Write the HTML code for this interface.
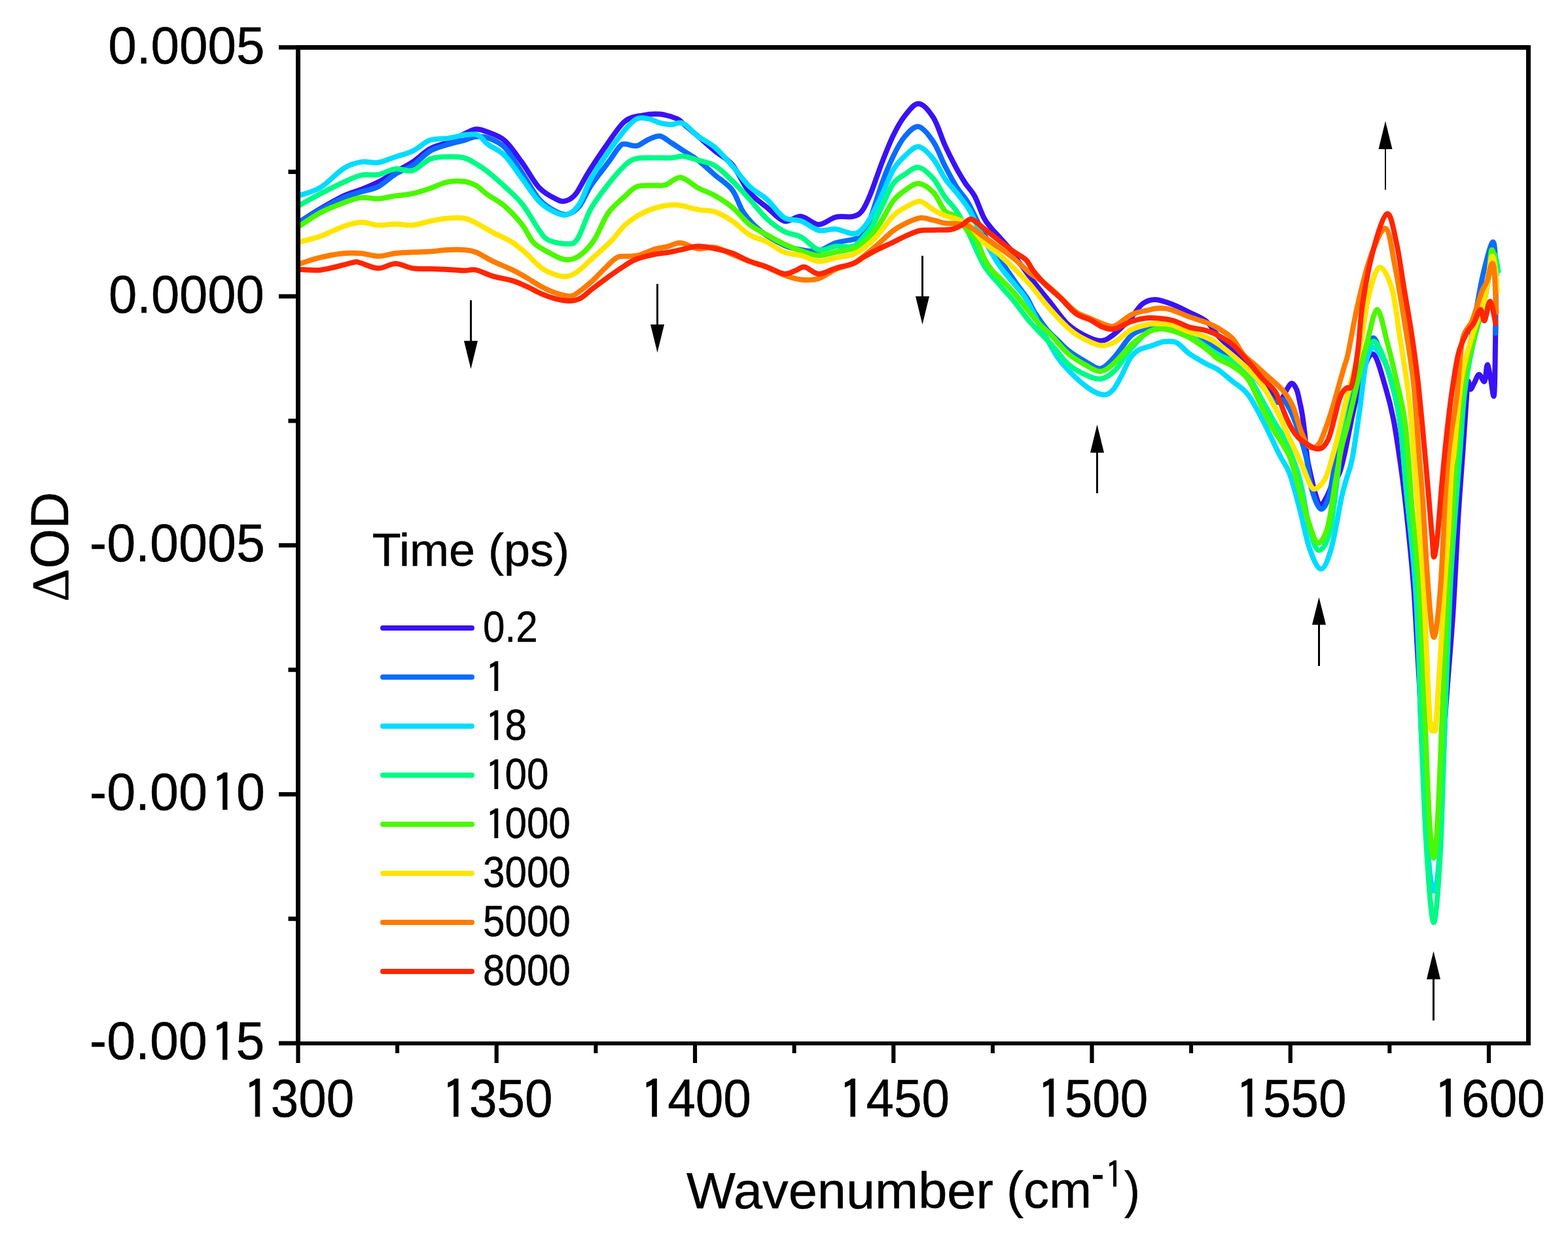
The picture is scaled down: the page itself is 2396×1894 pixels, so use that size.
<!DOCTYPE html>
<html><head><meta charset="utf-8"><title>Transient IR spectra</title>
<style>
html,body{margin:0;padding:0;background:#fff;width:2396px;height:1894px;overflow:hidden}
svg{display:block}
.tk text{font-family:'Liberation Sans', Arial, Helvetica, sans-serif;fill:#000;stroke:#000;stroke-width:0.5px;stroke-linejoin:round}
</style></head><body>
<svg width="2396" height="1894" viewBox="0 0 2396 1894">
<defs><clipPath id="pc"><rect x="459" y="76" width="1873" height="1516"/></clipPath></defs>
<g clip-path="url(#pc)" fill="none" stroke-width="8" stroke-linejoin="round" stroke-linecap="round">
<path d="M458.0,339.0C463.4,335.6 478.9,325.4 490.1,318.8C501.3,312.2 515.0,304.2 525.3,299.4C535.5,294.6 542.8,293.3 551.6,289.8C560.4,286.3 569.2,282.9 578.0,278.4C586.8,273.9 595.5,267.7 604.3,262.6C613.1,257.5 621.8,253.5 630.6,247.6C639.4,241.7 648.2,232.4 657.0,227.4C665.8,222.4 674.5,221.6 683.3,217.8C692.1,214.0 702.4,208.0 709.7,204.6C717.0,201.2 721.3,198.1 727.2,197.6C733.1,197.1 737.6,198.9 745.0,201.8C752.4,204.7 762.5,207.2 771.3,215.0C780.1,222.8 788.9,236.4 797.7,248.4C806.5,260.4 815.2,277.6 824.0,287.0C832.8,296.4 843.7,301.2 850.4,304.6C857.1,308.0 859.5,308.5 864.4,307.2C869.3,305.9 874.0,303.9 879.8,296.6C885.6,289.3 891.3,275.8 899.2,263.3C907.1,250.8 917.7,234.6 927.0,221.6C936.3,208.6 945.6,193.1 954.8,185.5C964.0,177.9 973.1,178.1 982.1,176.3C991.1,174.5 999.7,173.7 1008.5,174.6C1017.3,175.5 1028.7,179.0 1034.8,181.6C1040.9,184.2 1039.8,185.6 1045.0,190.0C1050.2,194.4 1058.3,201.2 1066.3,208.0C1074.2,214.8 1083.9,223.5 1092.7,230.8C1101.5,238.1 1110.2,241.4 1119.0,251.9C1127.8,262.4 1136.6,283.2 1145.4,294.0C1154.2,304.8 1162.9,309.6 1171.7,316.9C1180.5,324.2 1189.3,335.6 1198.1,337.9C1206.9,340.2 1215.6,330.0 1224.4,330.9C1233.2,331.8 1242.0,343.0 1250.8,343.2C1259.6,343.4 1268.3,333.9 1277.1,331.8C1285.9,329.8 1296.8,332.5 1303.5,330.9C1310.2,329.3 1313.1,327.8 1317.5,322.1C1321.9,316.5 1325.0,309.2 1330.0,297.0C1335.0,284.8 1341.8,263.9 1347.6,248.9C1353.4,233.8 1359.2,218.7 1365.1,206.7C1370.9,194.7 1376.2,184.9 1382.7,176.9C1389.2,168.9 1396.5,157.8 1403.8,158.4C1411.1,159.0 1419.9,169.7 1426.6,180.4C1433.3,191.1 1438.3,209.7 1444.2,222.6C1450.1,235.5 1456.6,248.1 1461.7,257.7C1466.8,267.3 1470.4,272.9 1475.0,280.0C1479.6,287.1 1484.7,291.2 1489.4,300.0C1494.1,308.8 1499.1,324.6 1503.4,332.8C1507.7,341.0 1511.2,344.3 1515.1,349.2C1519.0,354.1 1521.9,356.6 1526.8,362.1C1531.7,367.6 1539.5,375.8 1544.4,382.0C1549.3,388.2 1550.4,391.6 1556.1,399.5C1561.8,407.4 1570.5,419.2 1578.6,429.6C1586.6,440.0 1595.8,451.1 1604.4,461.8C1613.0,472.5 1621.5,485.6 1630.1,494.0C1638.7,502.4 1647.3,507.5 1655.9,512.0C1664.5,516.5 1674.2,521.0 1681.7,521.0C1689.2,521.0 1693.5,517.6 1701.0,512.0C1708.5,506.4 1719.2,495.5 1726.7,487.6C1734.2,479.7 1739.5,469.3 1746.0,464.4C1752.5,459.5 1757.9,457.9 1765.4,458.0C1772.9,458.1 1782.2,461.8 1790.8,465.0C1799.4,468.2 1808.3,472.9 1817.1,477.3C1825.9,481.7 1836.2,485.4 1843.5,491.3C1850.8,497.2 1854.3,505.7 1861.0,513.0C1867.7,520.3 1875.8,527.6 1883.4,535.0C1891.0,542.4 1899.0,548.9 1906.8,557.3C1914.6,565.7 1923.1,576.6 1930.3,585.4C1937.5,594.2 1945.4,605.7 1950.0,610.0C1954.6,614.3 1955.3,613.3 1958.0,611.0C1960.7,608.7 1963.3,600.2 1966.0,596.0C1968.7,591.8 1971.4,586.0 1974.0,586.0C1976.6,586.0 1979.5,591.2 1981.5,596.0C1983.5,600.8 1984.8,608.7 1986.2,615.0C1987.6,621.3 1988.8,626.2 1990.0,634.0C1991.2,641.8 1992.5,651.2 1993.7,662.0C1994.9,672.8 1996.1,689.3 1997.4,699.0C1998.7,708.7 1999.4,710.7 2001.5,720.0C2003.6,729.3 2007.3,746.3 2010.0,755.0C2012.7,763.7 2014.8,771.6 2017.6,772.4C2020.4,773.2 2023.9,765.4 2027.0,760.0C2030.1,754.6 2032.8,746.0 2036.0,740.0C2039.2,734.0 2043.3,731.7 2046.5,723.7C2049.7,715.7 2051.4,708.0 2055.0,692.0C2058.6,676.0 2063.2,649.5 2068.1,627.9C2073.0,606.3 2079.2,576.5 2084.5,562.3C2089.8,548.0 2094.2,537.3 2099.7,542.4C2105.2,547.5 2112.4,576.5 2117.3,592.7C2122.2,608.9 2125.5,622.0 2129.0,639.6C2132.5,657.2 2135.4,677.6 2138.4,698.1C2141.4,718.6 2143.4,731.6 2146.9,762.9C2150.4,794.2 2156.1,848.9 2159.2,885.8C2162.3,922.6 2163.2,948.3 2165.3,984.0C2167.4,1019.7 2169.4,1055.7 2172.0,1100.0C2174.6,1144.3 2177.8,1216.7 2181.0,1250.0C2184.2,1283.3 2187.8,1300.0 2191.0,1300.0C2194.2,1300.0 2197.2,1283.3 2200.0,1250.0C2202.8,1216.7 2204.6,1152.5 2208.0,1100.0C2211.4,1047.5 2217.1,987.0 2220.5,934.9C2223.9,882.8 2226.0,828.6 2228.5,787.5C2231.0,746.4 2233.5,717.1 2235.5,688.3C2237.5,659.5 2239.2,632.1 2240.5,614.6C2241.8,597.1 2242.1,586.3 2243.2,583.0C2244.3,579.7 2245.4,594.7 2247.0,595.0C2248.6,595.3 2250.8,588.8 2253.0,585.0C2255.2,581.2 2257.5,572.7 2260.1,572.4C2262.7,572.1 2266.4,585.5 2268.5,583.0C2270.6,580.5 2271.1,558.2 2272.7,557.7C2274.3,557.2 2276.2,572.6 2278.0,580.0C2279.8,587.4 2282.1,615.6 2283.3,601.9C2284.5,588.2 2285.1,515.3 2285.4,498.0" stroke="#3a12f6"/>
<path d="M458.0,339.0C463.4,335.8 478.9,326.2 490.1,320.0C501.3,313.8 515.0,306.4 525.3,302.0C535.5,297.6 542.8,296.1 551.6,293.3C560.4,290.5 569.2,289.9 578.0,285.4C586.8,280.8 595.5,271.4 604.3,266.0C613.1,260.6 621.8,258.7 630.6,252.9C639.4,247.1 648.2,236.3 657.0,231.0C665.8,225.7 674.5,224.1 683.3,221.3C692.1,218.5 702.4,216.4 709.7,214.3C717.0,212.2 721.3,209.6 727.2,209.0C733.1,208.4 737.6,207.8 745.0,210.6C752.4,213.3 762.5,216.6 771.3,225.5C780.1,234.4 788.9,251.0 797.7,264.2C806.5,277.4 815.2,294.7 824.0,304.6C832.8,314.6 843.1,320.1 850.4,323.9C857.7,327.7 862.1,328.9 868.0,327.4C873.9,325.9 879.6,322.4 885.5,315.1C891.4,307.8 895.8,294.6 903.1,283.5C910.4,272.4 922.1,258.4 929.4,248.4C936.7,238.5 942.6,228.5 947.0,223.8C951.4,219.1 951.4,220.5 955.8,220.3C960.2,220.2 967.4,224.1 973.3,222.9C979.1,221.7 985.0,215.7 990.9,213.2C996.8,210.7 1002.6,207.1 1008.5,208.0C1014.4,208.9 1020.1,214.8 1026.0,218.5C1031.8,222.2 1036.9,225.6 1043.6,230.0C1050.3,234.4 1058.1,238.5 1066.3,244.8C1074.5,251.1 1083.9,260.1 1092.7,267.7C1101.5,275.3 1111.7,280.9 1119.0,290.5C1126.3,300.1 1129.3,315.1 1136.6,325.6C1143.9,336.1 1152.8,345.5 1163.0,353.7C1173.2,361.9 1187.9,370.1 1198.1,374.8C1208.3,379.5 1215.6,380.4 1224.4,381.9C1233.2,383.4 1242.0,385.4 1250.8,383.6C1259.6,381.8 1268.3,374.2 1277.1,371.3C1285.9,368.4 1296.8,367.8 1303.5,366.0C1310.2,364.2 1313.1,366.1 1317.5,360.8C1321.9,355.5 1325.0,347.4 1330.0,334.0C1335.0,320.6 1341.8,296.4 1347.6,280.5C1353.4,264.6 1359.2,250.4 1365.1,238.4C1370.9,226.4 1376.2,216.0 1382.7,208.5C1389.2,201.0 1396.5,192.1 1403.8,193.6C1411.1,195.1 1419.9,207.2 1426.6,217.3C1433.3,227.4 1438.3,242.8 1444.2,254.2C1450.1,265.6 1455.9,276.5 1461.7,285.8C1467.5,295.1 1473.4,300.1 1479.3,310.0C1485.2,319.9 1491.0,333.8 1496.9,345.0C1502.9,356.2 1506.2,363.0 1515.0,377.0C1523.8,391.0 1541.0,416.0 1550.0,429.0C1559.0,442.0 1563.7,446.7 1569.0,455.0C1574.3,463.3 1576.8,470.8 1582.0,479.0C1587.2,487.2 1594.0,496.8 1600.0,504.0C1606.0,511.2 1612.5,516.7 1618.0,522.0C1623.5,527.3 1625.9,530.8 1632.7,536.0C1639.5,541.2 1650.8,548.4 1659.0,553.0C1667.2,557.6 1674.6,564.6 1681.9,563.4C1689.2,562.2 1695.1,554.3 1703.0,545.8C1710.9,537.3 1720.5,519.9 1729.3,512.4C1738.1,504.9 1748.3,503.3 1755.6,501.0C1762.9,498.7 1767.3,498.5 1773.2,498.4C1779.1,498.2 1783.5,498.1 1790.8,500.1C1798.1,502.2 1808.3,506.9 1817.1,510.7C1825.9,514.5 1836.2,519.3 1843.5,523.0C1850.8,526.7 1854.3,529.2 1861.0,533.0C1867.7,536.8 1875.8,540.4 1883.4,545.6C1891.0,550.8 1899.0,556.7 1906.8,564.3C1914.6,571.9 1923.5,582.8 1930.3,591.2C1937.1,599.6 1942.7,611.4 1947.8,614.7C1952.9,618.0 1956.8,609.2 1960.7,611.1C1964.6,613.0 1967.5,619.0 1971.2,626.4C1974.9,633.8 1978.8,643.2 1983.0,655.6C1987.2,668.0 1992.8,685.8 1996.3,700.9C1999.8,716.0 2000.4,733.7 2003.9,746.5C2007.5,759.3 2013.3,775.2 2017.6,777.7C2021.9,780.2 2026.2,772.1 2029.8,761.8C2033.3,751.5 2035.4,731.3 2038.9,716.1C2042.5,700.9 2047.8,683.1 2051.1,670.4C2054.4,657.7 2055.5,652.6 2058.7,640.0C2061.8,627.4 2065.6,611.7 2070.0,595.0C2074.4,578.3 2080.2,553.1 2085.0,540.0C2089.8,526.9 2094.3,516.6 2098.5,516.6C2102.7,516.6 2106.1,531.3 2110.0,540.0C2113.9,548.7 2117.3,552.4 2122.0,569.0C2126.7,585.6 2133.7,607.8 2138.4,639.6C2143.1,671.4 2145.6,716.6 2150.0,760.0C2154.4,803.4 2161.5,843.3 2165.0,900.0C2168.5,956.7 2168.3,1041.7 2171.0,1100.0C2173.7,1158.3 2177.7,1216.7 2181.0,1250.0C2184.3,1283.3 2187.8,1300.0 2191.0,1300.0C2194.2,1300.0 2197.2,1283.3 2200.0,1250.0C2202.8,1216.7 2205.8,1158.3 2208.0,1100.0C2210.2,1041.7 2211.5,953.3 2213.5,900.0C2215.5,846.7 2217.9,815.0 2220.0,780.0C2222.1,745.0 2223.3,720.0 2226.0,690.0C2228.7,660.0 2232.7,626.7 2236.0,600.0C2239.3,573.3 2242.7,551.1 2246.0,530.0C2249.3,508.9 2252.5,491.9 2255.9,473.3C2259.3,454.7 2262.2,435.7 2266.4,418.5C2270.6,401.3 2278.0,370.7 2281.2,370.0C2284.4,369.3 2284.7,391.1 2285.4,414.3C2286.1,437.5 2285.4,493.4 2285.4,509.2" stroke="#0a6cff"/>
<path d="M458.0,298.6C463.4,296.6 478.9,293.2 490.1,286.3C501.3,279.4 515.0,263.8 525.3,257.3C535.5,250.9 542.8,249.1 551.6,247.6C560.4,246.1 569.2,249.8 578.0,248.5C586.8,247.2 595.5,242.6 604.3,239.7C613.1,236.8 621.8,235.1 630.6,230.9C639.4,226.7 648.2,217.5 657.0,214.3C665.8,211.1 674.5,212.9 683.3,211.6C692.1,210.3 702.4,207.3 709.7,206.3C717.0,205.3 722.8,204.7 727.2,205.5C731.6,206.3 733.0,208.5 736.0,211.0C739.0,213.5 739.1,215.8 745.0,220.3C750.9,224.8 762.5,229.0 771.3,237.8C780.1,246.6 788.9,261.3 797.7,273.0C806.5,284.7 815.2,299.3 824.0,308.1C832.8,316.9 843.1,322.4 850.4,325.6C857.7,328.8 862.1,329.7 868.0,327.4C873.9,325.1 879.6,320.7 885.5,311.6C891.4,302.5 895.8,286.2 903.1,273.0C910.4,259.8 920.6,245.2 929.4,232.6C938.2,220.0 948.5,205.9 955.8,197.4C963.1,188.9 967.4,184.2 973.3,181.6C979.1,179.0 985.0,180.6 990.9,181.6C996.8,182.6 1002.6,186.3 1008.5,187.8C1014.4,189.3 1020.1,190.3 1026.0,190.4C1031.8,190.5 1036.9,185.7 1043.6,188.6C1050.3,191.5 1058.1,201.8 1066.3,208.0C1074.5,214.2 1083.9,217.9 1092.7,225.5C1101.5,233.1 1110.2,243.7 1119.0,253.6C1127.8,263.6 1136.6,276.7 1145.4,285.2C1154.2,293.7 1162.9,296.7 1171.7,304.6C1180.5,312.5 1189.3,327.1 1198.1,332.7C1206.9,338.2 1215.6,334.7 1224.4,337.9C1233.2,341.1 1242.0,349.9 1250.8,352.0C1259.6,354.1 1268.3,349.3 1277.1,350.2C1285.9,351.1 1296.8,357.3 1303.5,357.3C1310.2,357.3 1313.1,354.2 1317.5,350.2C1321.9,346.1 1325.0,341.7 1330.0,333.0C1335.0,324.3 1341.8,310.4 1347.6,298.1C1353.4,285.8 1359.2,269.3 1365.1,259.4C1370.9,249.4 1376.2,244.2 1382.7,238.4C1389.2,232.6 1396.5,223.4 1403.8,224.3C1411.1,225.2 1419.9,235.4 1426.6,243.6C1433.3,251.8 1438.3,265.0 1444.2,273.5C1450.1,282.0 1455.7,287.0 1461.7,294.6C1467.7,302.2 1475.0,311.1 1480.0,319.0C1485.0,326.9 1487.8,334.4 1491.7,342.2C1495.6,350.0 1497.6,355.1 1503.4,365.6C1509.2,376.1 1519.0,393.9 1526.8,405.4C1534.6,416.9 1543.8,426.6 1550.3,434.7C1556.8,442.8 1561.1,446.9 1565.8,454.0C1570.5,461.1 1574.3,468.8 1578.6,477.0C1582.9,485.2 1585.0,491.2 1591.5,503.0C1598.0,514.8 1608.7,535.8 1617.3,548.0C1625.9,560.2 1634.4,568.2 1643.0,576.4C1651.6,584.6 1661.3,592.5 1668.8,597.0C1676.3,601.5 1682.7,603.7 1688.1,603.5C1693.5,603.3 1696.7,600.6 1701.0,595.7C1705.3,590.8 1709.6,581.9 1713.9,573.9C1718.2,565.9 1722.4,554.5 1726.7,548.0C1731.0,541.5 1734.2,538.4 1739.6,535.2C1745.0,532.0 1752.5,530.9 1758.9,528.8C1765.3,526.6 1771.8,523.2 1778.2,522.3C1784.7,521.4 1791.1,520.6 1797.6,523.6C1804.1,526.6 1809.4,535.0 1817.1,540.5C1824.8,546.0 1836.2,552.2 1843.5,556.3C1850.8,560.4 1854.3,560.5 1861.0,565.0C1867.7,569.5 1875.8,576.7 1883.4,583.0C1891.0,589.3 1899.0,592.9 1906.8,603.0C1914.6,613.1 1922.3,628.6 1930.3,643.9C1938.3,659.2 1948.3,681.7 1955.0,695.0C1961.7,708.3 1965.3,710.0 1970.4,723.7C1975.5,737.4 1980.6,758.0 1985.7,777.0C1990.8,796.0 1995.5,822.4 2000.9,837.9C2006.4,853.4 2012.8,869.8 2018.4,869.8C2024.0,869.8 2029.2,855.9 2034.4,837.9C2039.6,819.9 2045.7,779.8 2049.6,761.8C2053.5,743.8 2055.2,740.1 2058.0,730.0C2060.8,719.9 2063.1,717.9 2066.3,700.9C2069.6,683.9 2074.1,651.8 2077.5,627.9C2080.9,604.0 2083.7,573.6 2086.8,557.6C2089.9,541.6 2092.7,534.8 2096.2,531.9C2099.7,529.0 2103.7,533.8 2108.0,540.0C2112.3,546.2 2116.9,552.7 2122.0,569.3C2127.1,585.9 2133.7,607.8 2138.4,639.6C2143.1,671.4 2145.9,716.6 2150.0,760.0C2154.1,803.4 2159.3,843.3 2163.0,900.0C2166.7,956.7 2168.8,1033.3 2172.0,1100.0C2175.2,1166.7 2178.8,1256.3 2182.0,1300.0C2185.2,1343.7 2188.0,1362.0 2191.0,1362.0C2194.0,1362.0 2197.3,1343.7 2200.0,1300.0C2202.7,1256.3 2204.7,1166.7 2207.0,1100.0C2209.3,1033.3 2211.5,956.7 2214.0,900.0C2216.5,843.3 2219.7,800.0 2222.0,760.0C2224.3,720.0 2225.7,688.3 2228.0,660.0C2230.3,631.7 2232.3,612.5 2236.0,590.0C2239.7,567.5 2244.7,546.7 2250.0,525.0C2255.3,503.3 2263.0,480.8 2268.0,460.0C2273.0,439.2 2276.8,406.7 2280.0,400.0C2283.2,393.3 2285.8,416.7 2287.0,420.0" stroke="#00dcff"/>
<path d="M458.0,313.5C463.4,310.6 478.9,301.8 490.1,295.9C501.3,290.0 515.0,283.1 525.3,278.4C535.5,273.7 542.8,269.7 551.6,267.8C560.4,265.9 569.2,268.5 578.0,266.9C586.8,265.3 595.5,259.2 604.3,258.2C613.1,257.2 621.8,263.3 630.6,260.8C639.4,258.3 648.2,246.7 657.0,243.2C665.8,239.7 674.5,240.0 683.3,239.7C692.1,239.4 702.4,239.7 709.7,241.5C717.0,243.3 721.3,246.8 727.2,250.3C733.1,253.8 737.6,256.6 745.0,262.4C752.4,268.2 762.5,277.0 771.3,285.2C780.1,293.4 788.9,300.5 797.7,311.6C806.5,322.7 817.3,342.8 824.0,352.0C830.7,361.2 830.8,363.2 837.7,366.7C844.6,370.2 858.1,373.0 865.5,372.8C872.9,372.6 875.9,374.6 882.2,365.6C888.5,356.6 895.2,332.6 903.1,318.6C911.0,304.6 920.6,292.8 929.4,281.7C938.2,270.6 948.5,258.5 955.8,251.9C963.1,245.3 966.0,244.0 973.3,242.2C980.6,240.4 990.9,241.5 999.7,241.3C1008.5,241.2 1018.7,241.7 1026.0,241.3C1033.3,240.9 1036.9,238.1 1043.6,238.7C1050.3,239.3 1058.1,242.3 1066.3,244.8C1074.5,247.3 1083.9,248.3 1092.7,253.6C1101.5,258.9 1110.2,268.0 1119.0,276.5C1127.8,285.0 1136.6,295.0 1145.4,304.6C1154.2,314.2 1162.9,326.2 1171.7,334.4C1180.5,342.6 1189.3,349.0 1198.1,353.7C1206.9,358.4 1215.6,357.8 1224.4,362.5C1233.2,367.2 1242.0,379.5 1250.8,381.9C1259.6,384.2 1268.3,377.5 1277.1,376.6C1285.9,375.7 1296.2,379.2 1303.5,376.6C1310.8,374.0 1316.1,366.1 1321.0,360.8C1325.9,355.5 1328.6,352.5 1333.0,345.0C1337.4,337.5 1342.2,326.4 1347.6,315.6C1352.9,304.9 1359.2,288.7 1365.1,280.5C1370.9,272.3 1376.2,270.6 1382.7,266.5C1389.2,262.4 1396.5,254.7 1403.8,255.9C1411.1,257.1 1419.9,265.9 1426.6,273.5C1433.3,281.1 1438.3,293.4 1444.2,301.6C1450.1,309.8 1455.7,313.6 1461.7,322.7C1467.7,331.8 1473.0,342.4 1480.0,356.2C1487.0,370.0 1495.6,392.3 1503.4,405.4C1511.2,418.5 1519.0,425.3 1526.8,434.7C1534.6,444.1 1542.5,452.1 1550.3,461.6C1558.1,471.2 1564.4,481.2 1573.7,492.0C1583.0,502.8 1596.5,515.7 1606.3,526.5C1616.1,537.3 1623.9,549.2 1632.7,557.0C1641.5,564.8 1650.8,569.3 1659.0,573.0C1667.2,576.7 1674.6,580.2 1681.9,579.2C1689.2,578.2 1695.1,574.8 1703.0,566.9C1710.9,559.0 1720.5,541.7 1729.3,531.7C1738.1,521.7 1745.3,512.7 1755.6,507.1C1765.8,501.6 1780.5,497.5 1790.8,498.4C1801.0,499.3 1808.3,507.1 1817.1,512.4C1825.9,517.7 1836.2,525.1 1843.5,530.0C1850.8,534.9 1854.3,538.2 1861.0,542.0C1867.7,545.8 1875.8,547.3 1883.4,552.6C1891.0,557.9 1899.0,563.4 1906.8,573.7C1914.6,584.1 1923.1,602.0 1930.3,614.7C1937.5,627.4 1944.6,640.7 1950.0,650.0C1955.4,659.3 1956.8,656.9 1962.8,670.4C1968.8,683.9 1979.3,708.5 1985.7,731.3C1992.1,754.1 1996.1,789.1 2000.9,807.4C2005.7,825.7 2009.5,839.6 2014.6,840.9C2019.7,842.2 2026.5,833.3 2031.3,815.0C2036.1,796.7 2040.0,760.5 2043.5,731.3C2047.0,702.1 2049.3,662.7 2052.6,640.0C2055.8,617.3 2059.3,608.3 2063.0,595.0C2066.7,581.7 2070.5,570.8 2075.0,560.0C2079.5,549.2 2085.3,535.9 2090.0,530.0C2094.7,524.1 2097.9,518.2 2103.2,524.8C2108.5,531.3 2116.1,550.2 2122.0,569.3C2127.9,588.4 2133.7,607.8 2138.4,639.6C2143.1,671.4 2145.6,716.6 2150.0,760.0C2154.4,803.4 2161.5,843.3 2165.0,900.0C2168.5,956.7 2168.5,1033.3 2171.0,1100.0C2173.5,1166.7 2176.7,1248.3 2180.0,1300.0C2183.3,1351.7 2187.3,1410.0 2190.8,1410.0C2194.3,1410.0 2198.1,1351.7 2201.0,1300.0C2203.9,1248.3 2205.5,1166.7 2208.0,1100.0C2210.5,1033.3 2213.3,953.3 2216.0,900.0C2218.7,846.7 2221.5,815.0 2224.0,780.0C2226.5,745.0 2228.7,720.0 2231.0,690.0C2233.3,660.0 2234.8,626.7 2238.0,600.0C2241.2,573.3 2245.0,553.3 2250.0,530.0C2255.0,506.7 2262.7,483.3 2268.0,460.0C2273.3,436.7 2278.4,397.6 2282.0,390.0C2285.6,382.4 2288.3,410.2 2289.6,414.3" stroke="#00fa86"/>
<path d="M458.0,345.1C463.4,341.7 478.9,330.8 490.1,324.9C501.3,319.0 515.0,313.8 525.3,310.0C535.5,306.2 542.8,303.1 551.6,302.1C560.4,301.1 569.2,304.2 578.0,303.8C586.8,303.4 595.5,300.7 604.3,299.4C613.1,298.1 621.8,297.8 630.6,295.9C639.4,294.0 648.2,290.9 657.0,288.0C665.8,285.1 674.5,280.1 683.3,278.4C692.1,276.6 702.4,276.6 709.7,277.5C717.0,278.4 721.3,280.3 727.2,283.6C733.1,286.9 737.6,292.2 745.0,297.5C752.4,302.8 762.5,307.5 771.3,315.1C780.1,322.7 790.3,333.9 797.7,343.2C805.1,352.5 808.8,364.1 815.5,371.1C822.2,378.2 830.3,381.3 837.7,385.5C845.1,389.7 853.5,394.4 860.0,396.1C866.5,397.8 871.1,397.4 876.6,395.5C882.1,393.6 887.7,389.8 893.3,384.4C898.9,379.0 904.0,373.1 910.0,363.3C916.0,353.5 921.8,336.3 929.4,325.6C937.0,314.9 948.5,306.0 955.8,299.3C963.1,292.6 966.0,287.8 973.3,285.2C980.6,282.6 992.4,283.9 999.7,283.5C1007.0,283.1 1010.5,284.7 1017.2,282.6C1023.9,280.6 1031.8,270.5 1040.0,271.2C1048.2,271.9 1057.5,282.3 1066.3,287.0C1075.1,291.7 1083.9,294.3 1092.7,299.3C1101.5,304.3 1110.2,309.6 1119.0,316.9C1127.8,324.2 1136.6,336.2 1145.4,343.2C1154.2,350.2 1162.9,354.0 1171.7,359.0C1180.5,364.0 1189.3,369.0 1198.1,373.1C1206.9,377.2 1215.6,380.7 1224.4,383.6C1233.2,386.5 1242.0,390.3 1250.8,390.6C1259.6,390.9 1268.3,387.1 1277.1,385.4C1285.9,383.6 1296.2,382.7 1303.5,380.1C1310.8,377.5 1315.8,373.8 1321.0,369.6C1326.2,365.4 1330.6,360.5 1335.0,355.0C1339.4,349.5 1342.6,344.7 1347.6,336.7C1352.6,328.7 1359.2,314.5 1365.1,306.9C1370.9,299.3 1376.2,295.5 1382.7,291.1C1389.2,286.7 1396.5,279.9 1403.8,280.5C1411.1,281.1 1419.9,287.6 1426.6,294.6C1433.3,301.6 1438.3,316.6 1444.2,322.7C1450.1,328.8 1455.7,326.1 1461.7,331.5C1467.7,336.9 1475.0,349.3 1480.0,355.0C1485.0,360.7 1487.8,359.2 1491.7,365.6C1495.6,372.1 1499.5,385.9 1503.4,393.7C1507.3,401.5 1511.2,407.3 1515.1,412.4C1519.0,417.5 1520.9,418.1 1526.8,424.1C1532.7,430.2 1542.5,439.7 1550.3,448.7C1558.1,457.7 1567.1,469.9 1573.7,478.0C1580.3,486.1 1584.6,491.3 1590.0,497.0C1595.4,502.7 1599.2,505.1 1606.3,512.4C1613.4,519.7 1623.9,533.4 1632.7,541.0C1641.5,548.6 1650.8,553.5 1659.0,558.0C1667.2,562.5 1674.6,568.3 1681.9,567.7C1689.2,567.1 1695.1,561.5 1703.0,554.6C1710.9,547.7 1720.5,534.4 1729.3,526.5C1738.1,518.6 1748.3,511.1 1755.6,507.1C1762.9,503.2 1767.3,503.1 1773.2,502.8C1779.1,502.5 1783.5,503.2 1790.8,505.4C1798.1,507.6 1808.3,511.2 1817.1,515.9C1825.9,520.6 1836.2,528.1 1843.5,533.5C1850.8,538.9 1854.3,544.1 1861.0,548.5C1867.7,552.9 1875.8,554.4 1883.4,559.6C1891.0,564.8 1899.0,568.4 1906.8,579.5C1914.6,590.6 1923.9,613.8 1930.3,626.4C1936.7,639.0 1938.3,643.1 1945.0,655.0C1951.7,666.9 1964.1,683.8 1970.4,697.8C1976.7,711.8 1978.0,723.2 1982.6,738.9C1987.2,754.6 1992.7,777.1 1997.8,792.2C2002.9,807.3 2007.9,827.0 2013.0,829.5C2018.1,832.0 2024.0,821.2 2028.3,807.4C2032.6,793.6 2035.4,766.8 2038.9,746.5C2042.5,726.2 2046.3,701.6 2049.6,685.7C2052.9,669.8 2054.4,668.8 2058.7,651.3C2062.9,633.8 2070.0,602.5 2075.1,581.0C2080.2,559.5 2084.3,540.5 2089.2,522.5C2094.1,504.6 2099.3,473.3 2104.4,473.3C2109.5,473.3 2114.7,504.6 2119.6,522.5C2124.5,540.5 2129.0,559.5 2133.7,581.0C2138.4,602.5 2143.6,618.1 2147.7,651.3C2151.8,684.5 2154.4,738.5 2158.0,780.0C2161.6,821.5 2165.8,846.7 2169.0,900.0C2172.2,953.3 2175.0,1041.7 2177.5,1100.0C2180.0,1158.3 2181.8,1214.7 2184.0,1250.0C2186.2,1285.3 2188.6,1311.7 2190.8,1311.7C2193.0,1311.7 2194.9,1285.3 2197.0,1250.0C2199.1,1214.7 2201.0,1158.3 2203.5,1100.0C2206.0,1041.7 2209.6,948.0 2212.0,900.0C2214.4,852.0 2215.9,847.3 2218.1,812.0C2220.3,776.7 2222.2,726.5 2225.3,688.3C2228.4,650.1 2232.5,611.1 2236.9,583.0C2241.3,554.9 2245.7,544.3 2251.7,519.7C2257.7,495.1 2268.1,458.2 2272.7,435.4C2277.3,412.6 2277.0,388.0 2279.1,382.7C2281.2,377.4 2284.3,400.3 2285.4,403.8" stroke="#4cf700"/>
<path d="M458.0,369.7C463.4,368.2 478.9,364.8 490.1,360.9C501.3,356.9 515.0,349.5 525.3,346.0C535.5,342.5 542.8,340.1 551.6,339.8C560.4,339.5 569.2,343.8 578.0,344.2C586.8,344.6 595.5,342.5 604.3,342.5C613.1,342.5 621.8,344.9 630.6,344.2C639.4,343.5 648.2,339.9 657.0,338.1C665.8,336.4 674.5,334.4 683.3,333.7C692.1,333.0 702.4,332.5 709.7,333.7C717.0,334.9 719.9,337.0 727.2,340.7C734.5,344.4 744.4,350.7 753.6,355.6C762.8,360.5 773.7,364.6 782.2,370.0C790.7,375.4 797.0,381.3 804.4,387.8C811.8,394.3 819.2,403.5 826.6,408.9C834.0,414.3 842.3,417.7 848.8,420.0C855.3,422.3 859.9,423.4 865.5,422.7C871.1,421.9 875.7,420.0 882.2,415.5C888.7,411.0 897.0,402.2 904.4,395.5C911.8,388.8 921.0,380.7 926.6,375.5C932.2,370.3 932.8,369.8 937.7,364.4C942.6,359.0 948.4,349.7 955.8,343.2C963.2,336.7 973.3,330.1 982.1,325.6C990.9,321.1 999.7,318.1 1008.5,316.0C1017.3,313.9 1025.2,312.6 1034.8,313.3C1044.4,314.0 1056.6,318.6 1066.3,320.4C1076.0,322.2 1083.9,321.0 1092.7,323.9C1101.5,326.8 1110.2,332.0 1119.0,337.9C1127.8,343.8 1136.6,353.7 1145.4,359.0C1154.2,364.3 1162.9,365.2 1171.7,369.6C1180.5,374.0 1189.3,381.9 1198.1,385.4C1206.9,388.9 1215.6,388.3 1224.4,390.6C1233.2,392.9 1242.0,398.8 1250.8,399.4C1259.6,400.0 1268.3,395.9 1277.1,394.1C1285.9,392.4 1296.2,391.5 1303.5,388.9C1310.8,386.3 1314.9,383.0 1321.0,378.3C1327.1,373.6 1332.7,368.9 1340.0,360.8C1347.3,352.7 1358.0,336.9 1365.1,329.7C1372.2,322.5 1376.0,321.1 1382.7,317.4C1389.4,313.7 1398.2,307.1 1405.5,307.7C1412.8,308.3 1420.1,317.2 1426.6,320.9C1433.0,324.6 1438.3,327.3 1444.2,329.7C1450.1,332.1 1455.7,332.7 1461.7,335.0C1467.7,337.3 1473.0,337.4 1480.0,343.3C1487.0,349.2 1495.6,362.7 1503.4,370.3C1511.2,377.9 1519.0,382.2 1526.8,389.0C1534.6,395.8 1542.5,403.6 1550.3,411.2C1558.1,418.8 1565.9,425.9 1573.7,434.7C1581.5,443.5 1589.3,454.7 1597.1,463.9C1604.9,473.1 1613.3,482.6 1620.5,490.0C1627.7,497.4 1633.6,503.1 1640.0,508.0C1646.4,512.9 1652.0,516.0 1659.0,519.4C1666.0,522.8 1674.6,527.6 1681.9,528.2C1689.2,528.8 1695.1,527.1 1703.0,523.0C1710.9,518.9 1720.5,508.2 1729.3,503.6C1738.1,499.1 1748.3,497.2 1755.6,495.7C1762.9,494.2 1767.3,494.6 1773.2,494.8C1779.1,495.0 1783.5,494.6 1790.8,496.6C1798.1,498.7 1808.3,503.9 1817.1,507.1C1825.9,510.3 1836.2,512.8 1843.5,515.9C1850.8,519.0 1854.3,521.0 1861.0,525.5C1867.7,530.0 1875.8,536.7 1883.4,543.2C1891.0,549.7 1899.0,556.3 1906.8,564.3C1914.6,572.3 1922.3,579.2 1930.3,591.2C1938.3,603.2 1948.3,622.8 1955.0,636.0C1961.7,649.2 1964.8,658.3 1970.4,670.4C1976.0,682.5 1983.6,697.1 1988.7,708.5C1993.8,719.9 1997.4,732.4 2000.9,738.9C2004.5,745.4 2006.0,748.6 2010.0,747.3C2014.0,746.0 2020.6,740.3 2025.2,731.3C2029.8,722.3 2034.2,704.3 2037.4,693.3C2040.7,682.2 2041.2,679.8 2044.7,665.0C2048.2,650.2 2053.2,626.2 2058.7,604.4C2064.2,582.6 2072.0,559.6 2077.5,534.2C2083.0,508.8 2086.4,473.1 2091.5,452.2C2096.6,431.3 2102.0,410.8 2107.9,408.9C2113.8,406.9 2121.6,423.5 2126.7,440.5C2131.8,457.5 2134.1,483.5 2138.4,510.8C2142.7,538.1 2148.8,574.5 2152.4,604.4C2156.0,634.3 2157.2,655.4 2160.0,690.0C2162.8,724.6 2166.4,777.0 2169.0,812.0C2171.6,847.0 2172.8,852.0 2175.5,900.0C2178.2,948.0 2182.4,1065.5 2185.0,1100.0C2187.6,1134.5 2189.2,1107.0 2190.8,1107.0C2192.4,1107.0 2192.1,1134.5 2194.8,1100.0C2197.5,1065.5 2203.9,948.0 2207.0,900.0C2210.1,852.0 2211.4,842.0 2213.2,812.0C2215.0,782.0 2216.5,740.6 2218.0,720.0C2219.5,699.4 2219.8,711.1 2222.2,688.3C2224.6,665.5 2228.5,611.1 2232.7,583.0C2236.9,554.9 2241.5,540.8 2247.5,519.7C2253.5,498.6 2263.2,477.6 2268.5,456.5C2273.8,435.4 2276.3,400.2 2279.1,393.2C2281.9,386.2 2284.0,405.5 2285.4,414.3C2286.8,423.1 2287.2,440.6 2287.5,445.9" stroke="#ffe500"/>
<path d="M458.0,403.1C463.4,401.5 478.9,396.0 490.1,393.4C501.3,390.8 515.0,388.3 525.3,387.3C535.5,386.3 542.8,386.6 551.6,387.3C560.4,388.0 569.2,391.7 578.0,391.7C586.8,391.7 595.5,388.3 604.3,387.3C613.1,386.3 621.8,385.9 630.6,385.5C639.4,385.1 648.2,385.2 657.0,384.6C665.8,384.0 674.5,382.4 683.3,382.0C692.1,381.6 702.4,381.4 709.7,382.0C717.0,382.6 719.9,382.6 727.2,385.5C734.5,388.4 744.4,395.2 753.6,399.6C762.8,404.1 773.7,408.1 782.2,412.2C790.7,416.3 797.0,420.1 804.4,424.4C811.8,428.6 819.2,433.8 826.6,437.7C834.0,441.6 841.4,445.2 848.8,447.7C856.2,450.2 865.5,452.7 871.1,452.7C876.7,452.7 876.7,451.5 882.2,447.7C887.8,443.9 897.0,436.6 904.4,430.0C911.8,423.4 920.1,413.9 926.6,407.8C933.1,401.7 937.7,396.0 943.3,393.3C948.9,390.6 954.5,392.2 960.0,391.7C965.5,391.1 969.9,391.8 976.6,390.0C983.3,388.2 992.8,383.3 1000.0,381.1C1007.2,378.9 1013.3,378.6 1020.0,377.0C1026.7,375.4 1032.3,370.8 1040.0,371.3C1047.7,371.8 1057.5,378.9 1066.3,380.1C1075.1,381.3 1083.9,376.8 1092.7,378.3C1101.5,379.8 1110.2,385.4 1119.0,388.9C1127.8,392.4 1136.6,396.2 1145.4,399.4C1154.2,402.6 1162.9,404.7 1171.7,408.2C1180.5,411.7 1189.3,417.3 1198.1,420.5C1206.9,423.7 1215.6,426.6 1224.4,427.5C1233.2,428.4 1242.0,428.4 1250.8,425.8C1259.6,423.2 1268.3,415.5 1277.1,411.7C1285.9,407.9 1296.2,406.4 1303.5,402.9C1310.8,399.4 1314.9,395.3 1321.0,390.6C1327.1,385.9 1332.7,381.2 1340.0,374.8C1347.3,368.4 1358.0,358.0 1365.1,352.5C1372.2,347.0 1376.0,345.2 1382.7,342.0C1389.4,338.8 1398.2,334.1 1405.5,333.2C1412.8,332.3 1420.1,335.4 1426.6,336.7C1433.0,338.0 1438.3,340.2 1444.2,341.1C1450.1,342.0 1455.7,341.2 1461.7,342.0C1467.7,342.8 1473.0,342.3 1480.0,345.7C1487.0,349.1 1495.6,356.6 1503.4,362.1C1511.2,367.6 1519.0,372.9 1526.8,378.5C1534.6,384.1 1542.5,389.6 1550.3,396.0C1558.1,402.4 1565.9,410.9 1573.7,417.1C1581.5,423.4 1589.3,427.2 1597.1,433.5C1604.9,439.8 1612.7,447.4 1620.5,454.6C1628.3,461.8 1636.1,471.3 1643.9,476.8C1651.7,482.3 1660.6,484.4 1667.4,487.4C1674.2,490.4 1679.1,493.2 1685.0,495.0C1690.9,496.8 1695.6,500.8 1703.0,498.4C1710.4,496.0 1720.5,484.9 1729.3,480.8C1738.1,476.7 1748.3,475.4 1755.6,473.8C1762.9,472.2 1767.3,471.1 1773.2,471.1C1779.1,471.1 1783.5,471.6 1790.8,473.8C1798.1,476.0 1808.3,481.1 1817.1,484.3C1825.9,487.5 1836.2,490.2 1843.5,493.1C1850.8,496.0 1854.3,497.4 1861.0,501.5C1867.7,505.6 1876.9,510.8 1883.4,517.5C1889.9,524.2 1894.1,535.1 1900.0,542.0C1905.9,548.9 1912.5,553.1 1918.7,558.7C1925.0,564.3 1931.2,570.0 1937.5,575.6C1943.8,581.2 1951.5,587.8 1956.2,592.5C1960.9,597.2 1962.5,599.2 1965.6,603.7C1968.7,608.2 1972.2,613.8 1974.9,619.6C1977.6,625.4 1979.2,631.4 1981.5,638.4C1983.8,645.4 1986.2,654.8 1989.0,661.8C1991.8,668.8 1995.3,676.8 1998.4,680.5C2001.5,684.2 2004.6,685.1 2007.7,684.3C2010.8,683.5 2014.0,681.1 2017.1,675.8C2020.2,670.5 2023.4,661.0 2026.5,652.4C2029.6,643.8 2032.7,634.4 2035.8,624.3C2038.9,614.1 2042.1,602.4 2045.2,591.5C2048.3,580.6 2052.1,567.3 2054.6,558.7C2057.1,550.1 2056.6,555.8 2060.0,540.0C2063.4,524.2 2069.4,488.3 2075.1,463.9C2080.8,439.5 2086.9,412.8 2093.9,393.7C2100.9,374.6 2111.1,347.2 2117.3,349.2C2123.5,351.1 2126.6,382.4 2131.3,405.4C2136.0,428.4 2140.7,458.1 2145.4,487.4C2150.1,516.7 2155.6,547.2 2159.4,581.0C2163.2,614.8 2165.6,659.7 2168.0,690.0C2170.4,720.3 2171.5,727.9 2173.9,762.9C2176.3,797.9 2179.6,864.8 2182.5,900.0C2185.4,935.2 2188.0,974.2 2191.1,974.2C2194.2,974.2 2198.1,935.2 2201.0,900.0C2203.9,864.8 2206.3,796.2 2208.3,762.9C2210.3,729.6 2211.4,717.1 2213.0,700.0C2214.6,682.9 2215.8,676.0 2218.0,660.0C2220.2,644.0 2223.6,627.4 2226.4,604.0C2229.2,580.6 2230.9,538.7 2234.8,519.7C2238.7,500.7 2244.7,502.5 2249.6,490.2C2254.5,477.9 2260.5,456.1 2264.3,445.9C2268.2,435.7 2270.2,436.0 2272.7,429.0C2275.2,422.0 2277.3,406.2 2279.1,403.8C2280.9,401.4 2282.1,402.0 2283.3,414.3C2284.5,426.6 2286.0,467.1 2286.5,477.6" stroke="#ff7b00"/>
<path d="M458.0,411.9C463.4,412.0 478.9,413.9 490.1,412.7C501.3,411.5 516.5,406.9 525.3,404.8C534.1,402.8 538.4,400.8 542.8,400.4C547.2,400.0 545.7,400.6 551.6,402.2C557.5,403.8 569.2,410.0 578.0,410.1C586.8,410.2 595.5,403.1 604.3,403.1C613.1,403.1 621.8,408.8 630.6,410.1C639.4,411.4 648.2,410.7 657.0,411.0C665.8,411.3 674.5,411.5 683.3,411.9C692.1,412.3 702.4,413.5 709.7,413.6C717.0,413.7 719.9,411.2 727.2,412.7C734.5,414.2 744.4,419.7 753.6,422.4C762.8,425.1 773.7,426.3 782.2,428.9C790.7,431.4 797.0,434.4 804.4,437.7C811.8,441.0 819.2,445.6 826.6,448.8C834.0,452.0 841.4,454.7 848.8,456.6C856.2,458.5 864.6,460.2 871.1,460.0C877.6,459.8 882.2,458.5 887.7,455.5C893.2,452.5 897.9,447.2 904.4,442.2C910.9,437.2 919.2,430.9 926.6,425.5C934.0,420.1 941.4,414.8 948.8,410.0C956.2,405.2 962.5,400.2 971.0,396.7C979.5,393.2 991.8,390.7 1000.0,388.9C1008.2,387.1 1013.3,387.2 1020.0,386.0C1026.7,384.8 1032.3,383.5 1040.0,381.9C1047.7,380.3 1057.5,376.9 1066.3,376.6C1075.1,376.3 1083.9,378.4 1092.7,380.1C1101.5,381.9 1110.2,383.9 1119.0,387.1C1127.8,390.3 1136.6,395.9 1145.4,399.4C1154.2,402.9 1162.9,405.0 1171.7,408.2C1180.5,411.4 1190.8,417.8 1198.1,418.7C1205.4,419.6 1210.3,415.2 1215.6,413.5C1220.9,411.8 1223.8,407.3 1229.7,408.2C1235.6,409.1 1242.9,418.4 1250.8,418.7C1258.7,419.0 1268.3,412.6 1277.1,410.0C1285.9,407.4 1296.2,405.8 1303.5,402.9C1310.8,400.0 1314.9,395.9 1321.0,392.4C1327.1,388.9 1332.7,385.6 1340.0,381.9C1347.3,378.2 1358.0,373.5 1365.1,370.1C1372.2,366.7 1376.0,364.2 1382.7,361.3C1389.4,358.4 1398.2,354.1 1405.5,352.5C1412.8,350.9 1418.7,352.0 1426.6,351.7C1434.5,351.4 1445.7,352.1 1453.0,350.8C1460.3,349.5 1465.3,346.3 1470.5,343.7C1475.7,341.1 1478.5,334.1 1484.0,335.0C1489.5,335.9 1496.3,343.7 1503.4,349.2C1510.5,354.7 1519.0,361.8 1526.8,367.9C1534.6,373.9 1543.5,380.6 1550.3,385.5C1557.1,390.4 1562.9,392.3 1567.8,397.2C1572.7,402.1 1574.6,408.6 1579.5,414.8C1584.4,421.1 1590.3,427.9 1597.1,434.7C1603.9,441.5 1612.7,448.3 1620.5,455.7C1628.3,463.1 1636.1,473.5 1643.9,479.2C1651.7,484.9 1660.6,486.2 1667.4,489.7C1674.2,493.2 1679.1,497.8 1685.0,500.0C1690.9,502.2 1695.6,504.2 1703.0,502.8C1710.4,501.4 1720.5,494.1 1729.3,491.3C1738.1,488.5 1745.3,486.4 1755.6,486.1C1765.8,485.8 1780.5,487.3 1790.8,489.6C1801.0,491.9 1808.3,497.5 1817.1,500.1C1825.9,502.7 1836.2,503.3 1843.5,505.4C1850.8,507.5 1854.3,509.0 1861.0,512.6C1867.7,516.2 1875.8,520.2 1883.4,526.8C1891.0,533.4 1899.4,543.5 1906.8,552.0C1914.2,560.5 1921.3,570.1 1928.0,577.5C1934.7,584.9 1942.1,590.0 1946.8,596.2C1951.5,602.5 1953.1,608.0 1956.2,615.0C1959.3,622.0 1962.5,631.4 1965.6,638.4C1968.7,645.4 1971.9,651.9 1975.0,657.0C1978.1,662.1 1981.2,666.0 1984.3,669.3C1987.4,672.6 1990.6,674.6 1993.7,676.8C1996.8,679.0 1999.9,680.8 2003.0,682.4C2006.1,684.0 2009.3,686.0 2012.4,686.1C2015.5,686.2 2018.7,686.3 2021.8,683.3C2024.9,680.3 2028.0,676.3 2031.1,668.0C2034.2,659.7 2038.0,643.0 2040.5,633.7C2043.0,624.4 2044.2,617.8 2046.1,612.0C2048.0,606.2 2049.8,602.2 2051.8,599.0C2053.8,595.8 2055.7,594.8 2058.0,593.0C2060.3,591.2 2063.0,597.8 2065.8,588.0C2068.7,578.2 2072.4,554.9 2075.1,534.2C2077.8,513.5 2078.3,489.3 2082.2,463.9C2086.1,438.5 2092.3,404.8 2098.5,382.0C2104.7,359.2 2113.7,328.8 2119.6,326.9C2125.5,324.9 2129.4,351.4 2133.7,370.3C2138.0,389.2 2141.5,417.1 2145.4,440.5C2149.3,463.9 2153.6,487.4 2157.1,510.8C2160.6,534.2 2163.8,557.6 2166.5,581.0C2169.2,604.4 2171.0,625.1 2173.5,651.3C2176.0,677.5 2178.8,709.5 2181.3,738.3C2183.8,767.1 2187.0,805.4 2188.6,824.3C2190.2,843.1 2189.9,851.4 2191.1,851.4C2192.3,851.4 2193.9,843.1 2196.0,824.3C2198.1,805.4 2201.1,764.0 2203.4,738.3C2205.7,712.6 2207.6,692.4 2210.0,670.0C2212.4,647.6 2214.8,625.5 2217.9,604.0C2221.0,582.5 2224.6,556.6 2228.5,540.8C2232.4,525.0 2237.2,516.9 2241.1,509.2C2245.0,501.5 2248.2,500.4 2251.7,494.4C2255.2,488.4 2259.4,474.0 2262.2,473.3C2265.0,472.6 2266.0,492.3 2268.5,490.2C2271.0,488.1 2274.2,460.0 2277.0,460.7C2279.8,461.4 2284.0,488.8 2285.4,494.4" stroke="#ff2600"/>
</g>
<g fill="#000">
<rect x="452" y="69" width="1887" height="7"/>
<rect x="452" y="1592" width="1887" height="6"/>
<rect x="452" y="69" width="7" height="1529"/>
<rect x="2332" y="69" width="7" height="1529"/>
<rect x="452.4" y="1595" width="6.2" height="30"/>
<rect x="755.6" y="1595" width="6.2" height="30"/>
<rect x="1058.9" y="1595" width="6.2" height="30"/>
<rect x="1362.2" y="1595" width="6.2" height="30"/>
<rect x="1665.4" y="1595" width="6.2" height="30"/>
<rect x="1968.7" y="1595" width="6.2" height="30"/>
<rect x="2271.9" y="1595" width="6.2" height="30"/>
<rect x="604.1" y="1595" width="6" height="15"/>
<rect x="907.4" y="1595" width="6" height="15"/>
<rect x="1210.6" y="1595" width="6" height="15"/>
<rect x="1513.9" y="1595" width="6" height="15"/>
<rect x="1817.1" y="1595" width="6" height="15"/>
<rect x="2120.4" y="1595" width="6" height="15"/>
<rect x="426" y="69.1" width="30" height="6.6"/>
<rect x="426" y="449.7" width="30" height="6.6"/>
<rect x="426" y="830.3" width="30" height="6.6"/>
<rect x="426" y="1210.9" width="30" height="6.6"/>
<rect x="426" y="1591.5" width="30" height="6.6"/>
<rect x="440.5" y="259.4" width="16" height="6.6"/>
<rect x="440.5" y="640.0" width="16" height="6.6"/>
<rect x="440.5" y="1020.6" width="16" height="6.6"/>
<rect x="440.5" y="1401.2" width="16" height="6.6"/>
</g>
<line x1="585" y1="960" x2="721" y2="960" stroke="#3a12f6" stroke-width="8" stroke-linecap="round"/>
<line x1="585" y1="1035" x2="721" y2="1035" stroke="#0a6cff" stroke-width="8" stroke-linecap="round"/>
<line x1="585" y1="1110" x2="721" y2="1110" stroke="#00dcff" stroke-width="8" stroke-linecap="round"/>
<line x1="585" y1="1185" x2="721" y2="1185" stroke="#00fa86" stroke-width="8" stroke-linecap="round"/>
<line x1="585" y1="1260" x2="721" y2="1260" stroke="#4cf700" stroke-width="8" stroke-linecap="round"/>
<line x1="585" y1="1335" x2="721" y2="1335" stroke="#ffe500" stroke-width="8" stroke-linecap="round"/>
<line x1="585" y1="1410" x2="721" y2="1410" stroke="#ff7b00" stroke-width="8" stroke-linecap="round"/>
<line x1="585" y1="1485" x2="721" y2="1485" stroke="#ff2600" stroke-width="8" stroke-linecap="round"/>
<line x1="719.5" y1="459" x2="719.5" y2="521" stroke="#000" stroke-width="3"/>
<polygon points="709.0,521 730.0,521 719.5,564" fill="#000"/>
<line x1="1004.5" y1="434" x2="1004.5" y2="496" stroke="#000" stroke-width="3"/>
<polygon points="994.0,496 1015.0,496 1004.5,539" fill="#000"/>
<line x1="1409.5" y1="391" x2="1409.5" y2="453" stroke="#000" stroke-width="3"/>
<polygon points="1399.0,453 1420.0,453 1409.5,496" fill="#000"/>
<line x1="1676.5" y1="754" x2="1676.5" y2="692" stroke="#000" stroke-width="3"/>
<polygon points="1666.0,692 1687.0,692 1676.5,649" fill="#000"/>
<line x1="2015.5" y1="1018" x2="2015.5" y2="955" stroke="#000" stroke-width="3"/>
<polygon points="2005.0,955 2026.0,955 2015.5,913" fill="#000"/>
<line x1="2117" y1="290" x2="2117" y2="228" stroke="#000" stroke-width="2"/>
<polygon points="2106.5,228 2127.5,228 2117,185" fill="#000"/>
<line x1="2190.5" y1="1560" x2="2190.5" y2="1497" stroke="#000" stroke-width="3"/>
<polygon points="2180.0,1497 2201.0,1497 2190.5,1454" fill="#000"/>
<g class="tk">
<text transform="matrix(0.9777 0 0 1.0000 165.37 97.00)" font-size="80">0.0005</text>
<text transform="matrix(0.9715 0 0 1.0140 166.09 477.79)" font-size="80">0.0000</text>
<text transform="matrix(0.9879 0 0 1.0105 136.85 857.69)" font-size="80">-0.0005</text>
<text transform="matrix(0.9879 0 0 1.0053 136.85 1237.69)" font-size="80">-0.00<tspan dx="44.48">0</tspan></text>
<text transform="matrix(1.4658 0 0 1.4658 322.38 1242.30)" font-size="55"><tspan font-family="IPAGothic, Liberation Sans, sans-serif">1</tspan></text>
<text transform="matrix(0.9860 0 0 1.0228 136.86 1619.08)" font-size="80">-0.00<tspan dx="44.48">5</tspan></text>
<text transform="matrix(1.4921 0 0 1.4921 321.93 1623.78)" font-size="55"><tspan font-family="IPAGothic, Liberation Sans, sans-serif">1</tspan></text>
<text transform="matrix(0.9556 0 0 1.0175 371.32 1706.88)" font-size="80"><tspan dx="44.48">300</tspan></text>
<text transform="matrix(1.4974 0 0 1.4974 371.84 1711.29)" font-size="55"><tspan font-family="IPAGothic, Liberation Sans, sans-serif">1</tspan></text>
<text transform="matrix(0.9556 0 0 1.0175 674.57 1706.88)" font-size="80"><tspan dx="44.48">350</tspan></text>
<text transform="matrix(1.4974 0 0 1.4974 675.09 1711.29)" font-size="55"><tspan font-family="IPAGothic, Liberation Sans, sans-serif">1</tspan></text>
<text transform="matrix(0.9556 0 0 1.0175 977.82 1706.88)" font-size="80"><tspan dx="44.48">400</tspan></text>
<text transform="matrix(1.4974 0 0 1.4974 978.34 1711.29)" font-size="55"><tspan font-family="IPAGothic, Liberation Sans, sans-serif">1</tspan></text>
<text transform="matrix(0.9556 0 0 1.0175 1281.07 1706.88)" font-size="80"><tspan dx="44.48">450</tspan></text>
<text transform="matrix(1.4974 0 0 1.4974 1281.59 1711.29)" font-size="55"><tspan font-family="IPAGothic, Liberation Sans, sans-serif">1</tspan></text>
<text transform="matrix(0.9556 0 0 1.0175 1584.32 1706.88)" font-size="80"><tspan dx="44.48">500</tspan></text>
<text transform="matrix(1.4974 0 0 1.4974 1584.84 1711.29)" font-size="55"><tspan font-family="IPAGothic, Liberation Sans, sans-serif">1</tspan></text>
<text transform="matrix(0.9556 0 0 1.0175 1887.57 1706.88)" font-size="80"><tspan dx="44.48">550</tspan></text>
<text transform="matrix(1.4974 0 0 1.4974 1888.09 1711.29)" font-size="55"><tspan font-family="IPAGothic, Liberation Sans, sans-serif">1</tspan></text>
<text transform="matrix(0.9556 0 0 1.0175 2190.82 1706.88)" font-size="80"><tspan dx="44.48">600</tspan></text>
<text transform="matrix(1.4974 0 0 1.4974 2191.34 1711.29)" font-size="55"><tspan font-family="IPAGothic, Liberation Sans, sans-serif">1</tspan></text>
<text transform="matrix(0.9917 0 0 0.9831 1049.01 1846.92)" font-size="80">Wavenumber</text>
<text transform="matrix(0.9764 0 0 0.9693 1537.92 1846.22)" font-size="80">(cm</text>
<text transform="matrix(1.0714 0 0 1.2500 1667.76 1818.25)" font-size="55">-</text>
<text transform="matrix(1.0342 0 0 1.0342 1688.42 1817.20)" font-size="55"><tspan font-family="IPAGothic, Liberation Sans, sans-serif">1</tspan></text>
<text transform="matrix(0.9000 0 0 0.9693 1717.90 1846.22)" font-size="80">)</text>
<text transform="translate(103.98,919.74) rotate(-90) scale(0.9794,1.0175)" font-size="80"><tspan font-family="Liberation Serif, serif">&#916;</tspan>OD</text>
<text transform="matrix(1.0003 0 0 0.9731 568.70 865.40)" font-size="72">Time (ps)</text>
<text transform="matrix(0.9692 0 0 1.0690 738.09 980.90)" font-size="62">0.2</text>
<text transform="matrix(1.1605 0 0 1.1605 741.47 1059.38)" font-size="55"><tspan font-family="IPAGothic, Liberation Sans, sans-serif">1</tspan></text>
<text transform="matrix(0.9692 0 0 1.0690 738.09 1130.90)" font-size="62"><tspan dx="34.47">8</tspan></text>
<text transform="matrix(1.1605 0 0 1.1605 741.47 1134.38)" font-size="55"><tspan font-family="IPAGothic, Liberation Sans, sans-serif">1</tspan></text>
<text transform="matrix(0.9692 0 0 1.0690 738.09 1205.90)" font-size="62"><tspan dx="34.47">00</tspan></text>
<text transform="matrix(1.1605 0 0 1.1605 741.47 1209.38)" font-size="55"><tspan font-family="IPAGothic, Liberation Sans, sans-serif">1</tspan></text>
<text transform="matrix(0.9692 0 0 1.0690 738.09 1280.90)" font-size="62"><tspan dx="34.47">000</tspan></text>
<text transform="matrix(1.1605 0 0 1.1605 741.47 1284.38)" font-size="55"><tspan font-family="IPAGothic, Liberation Sans, sans-serif">1</tspan></text>
<text transform="matrix(0.9692 0 0 1.0690 738.09 1355.90)" font-size="62">3000</text>
<text transform="matrix(0.9692 0 0 1.0690 738.09 1430.90)" font-size="62">5000</text>
<text transform="matrix(0.9692 0 0 1.0690 738.09 1505.90)" font-size="62">8000</text>
</g>
</svg>
</body></html>
